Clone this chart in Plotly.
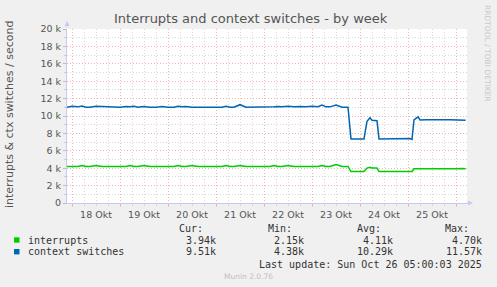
import pandas as pd
import plotly.graph_objects as go

# hours relative to 2025-10-18 00:00
hours = [
    -2.5, 0, 3, 5, 7, 9, 12, 15, 18, 21,
    24, 27, 29, 31, 33, 36, 39, 42, 45, 48,
    51, 53, 55, 57, 60, 63, 66, 69, 72, 75,
    77, 79, 81, 84, 87, 90, 93, 96, 99, 101,
    103, 105, 108, 111, 114, 117, 120, 123, 125, 127,
    129, 132, 135, 138, 139.5, 142, 145, 146, 147.5, 149,
    150, 152.5, 153.5, 156, 159, 163, 166.5, 169, 170, 171,
    173, 174, 177, 180, 183, 186, 189, 192, 195, 196.8,
]

interrupts_k = [
    4.20, 4.21, 4.20, 4.32, 4.20, 4.20, 4.32, 4.20, 4.20, 4.20,
    4.20, 4.20, 4.32, 4.20, 4.20, 4.32, 4.20, 4.20, 4.20, 4.20,
    4.20, 4.32, 4.20, 4.20, 4.32, 4.20, 4.20, 4.20, 4.20, 4.20,
    4.32, 4.20, 4.20, 4.32, 4.20, 4.20, 4.20, 4.20, 4.20, 4.32,
    4.20, 4.20, 4.32, 4.20, 4.20, 4.20, 4.20, 4.20, 4.32, 4.20,
    4.20, 4.42, 4.20, 4.20, 3.62, 3.62, 3.62, 3.62, 4.01, 4.10,
    4.01, 4.01, 3.62, 3.62, 3.62, 3.63, 3.62, 3.62, 3.62, 3.93,
    3.98, 3.93, 3.95, 3.93, 3.96, 3.93, 3.95, 3.93, 3.96, 3.94,
]

ctx_switches_k = [
    11.00, 11.12, 11.05, 11.15, 11.02, 11.00, 11.12, 11.08, 11.00, 11.00,
    11.00, 11.10, 11.05, 11.12, 11.02, 11.10, 11.00, 11.00, 11.08, 11.00,
    11.00, 11.12, 11.05, 11.10, 11.00, 11.00, 11.00, 11.00, 11.00, 11.00,
    11.12, 11.00, 11.00, 11.30, 11.00, 11.00, 11.00, 11.00, 11.00, 11.05,
    11.10, 11.05, 11.12, 11.06, 11.10, 11.05, 11.12, 11.06, 11.25, 11.05,
    11.05, 11.25, 11.00, 11.00, 7.37, 7.37, 7.37, 7.37, 9.40, 9.80,
    9.50, 9.45, 7.37, 7.37, 7.37, 7.45, 7.45, 7.40, 7.30, 9.55,
    9.90, 9.55, 9.58, 9.55, 9.60, 9.56, 9.58, 9.55, 9.60, 9.51,
]

y_ticks = [0, 2, 4, 6, 8, 10, 12, 14, 16, 18, 20]
y_ticktext = ["0", "2 k", "4 k", "6 k", "8 k", "10 k", "12 k", "14 k", "16 k", "18 k", "20 k"]

legend_names = ["interrupts", "context switches"]
legend_colors = ["#00cc00", "#0066b3"]
stat_headers = ["Cur:", "Min:", "Avg:", "Max:"]
stats_interrupts = ["3.94k", "2.15k", "4.11k", "4.70k"]
stats_ctx = ["9.51k", "4.38k", "10.29k", "11.57k"]

base = pd.Timestamp("2025-10-18 00:00")
times = base + pd.to_timedelta(hours, unit="h")
x_start = base + pd.Timedelta(hours=-2.5)
x_end = base + pd.Timedelta(hours=197.5)

W, H = 497, 287
L, R, T, B = 67, 30, 29, 84
PW, PH = W - L - R, H - T - B


def px(x):
    return (x - L) / PW


def py(y):
    return (H - B - y) / PH


fig = go.Figure()
fig.add_trace(go.Scatter(x=times, y=interrupts_k, mode="lines",
                         line=dict(color=legend_colors[0], width=1.5),
                         showlegend=False))
fig.add_trace(go.Scatter(x=times, y=ctx_switches_k, mode="lines",
                         line=dict(color=legend_colors[1], width=1.5),
                         showlegend=False))

grid_red = "#f0b4b4"
grid_gray = "#d8d8d8"
axis_col = "#c8c8f0"
txt = "#555555"

fig.update_layout(
    width=W, height=H, autosize=False,
    margin=dict(l=L, r=R, t=T, b=B, pad=0),
    paper_bgcolor="#f0f0f0", plot_bgcolor="#ffffff",
    font=dict(family="DejaVu Sans", size=10, color=txt),
    xaxis=dict(
        type="date", range=[x_start, x_end],
        tick0=base, dtick=86400000, tickformat="%d Okt", ticklabelmode="period",
        showgrid=True, gridcolor=grid_red, griddash="1px,2px", gridwidth=1,
        ticks="outside", ticklen=3, tickcolor=grid_red,
        tickfont=dict(family="DejaVu Sans", size=9.5, color=txt),
        minor=dict(dtick=6 * 3600 * 1000, showgrid=True, gridcolor=grid_gray,
                   griddash="1px,2px", ticks="outside", ticklen=2, tickcolor=grid_gray),
        showline=True, linecolor=axis_col, linewidth=1,
        zeroline=False, fixedrange=True,
    ),
    yaxis=dict(
        range=[0, 20], tickvals=y_ticks, ticktext=y_ticktext,
        showgrid=True, gridcolor=grid_red, griddash="1px,2px", gridwidth=1,
        ticks="outside", ticklen=3, tickcolor="#bbbbbb",
        tickfont=dict(family="DejaVu Sans", size=9.5, color=txt),
        minor=dict(dtick=1, showgrid=True, gridcolor=grid_gray,
                   griddash="1px,2px", ticks="outside", ticklen=2, tickcolor="#cccccc"),
        showline=True, linecolor=axis_col, linewidth=1,
        zeroline=False, fixedrange=True,
    ),
)

ann = []
# title
ann.append(dict(x=px(250.5), y=py(19), xref="paper", yref="paper",
                text="Interrupts and context switches - by week", showarrow=False,
                xanchor="center", yanchor="middle",
                font=dict(family="DejaVu Sans", size=13, color=txt)))
# y axis label
ann.append(dict(x=px(10), y=py(115), xref="paper", yref="paper",
                text="interrupts & ctx switches / second", showarrow=False,
                textangle=-90, xanchor="center", yanchor="middle",
                font=dict(family="DejaVu Sans", size=11, color=txt)))
# rrdtool credit
ann.append(dict(x=px(488), y=py(53), xref="paper", yref="paper",
                text="RRDTOOL / TOBI OETIKER", showarrow=False,
                textangle=90, xanchor="center", yanchor="middle",
                font=dict(family="DejaVu Sans", size=7.5, color="#c8c8c8")))
# axis arrows
ann.append(dict(x=px(L), y=py(21), xref="paper", yref="paper", ax=0, ay=7,
                showarrow=True, arrowhead=2, arrowsize=1, arrowwidth=1,
                arrowcolor=axis_col, text=""))
ann.append(dict(x=px(473), y=py(203), xref="paper", yref="paper", ax=-7, ay=0,
                showarrow=True, arrowhead=2, arrowsize=1, arrowwidth=1,
                arrowcolor=axis_col, text=""))

mono = dict(family="DejaVu Sans Mono", size=10, color="#333333")
header_right = [204, 293, 382, 470]
value_right = [216.7, 305, 394, 482.7]
for hx, h in zip(header_right, stat_headers):
    ann.append(dict(x=px(hx), y=py(228.3), xref="paper", yref="paper", text=h,
                    showarrow=False, xanchor="right", yanchor="middle", font=mono))
rows_y = [240, 251.7]
for ry, name, vals in zip(rows_y, legend_names, [stats_interrupts, stats_ctx]):
    ann.append(dict(x=px(26.7), y=py(ry), xref="paper", yref="paper", text=name,
                    showarrow=False, xanchor="left", yanchor="middle", font=mono))
    for vx, v in zip(value_right, vals):
        ann.append(dict(x=px(vx), y=py(ry), xref="paper", yref="paper", text=v,
                        showarrow=False, xanchor="right", yanchor="middle", font=mono))
ann.append(dict(x=px(482.7), y=py(264), xref="paper", yref="paper",
                text="Last update: Sun Oct 26 05:00:03 2025",
                showarrow=False, xanchor="right", yanchor="middle", font=mono))
ann.append(dict(x=px(248), y=py(276.5), xref="paper", yref="paper",
                text="Munin 2.0.76", showarrow=False, xanchor="center", yanchor="middle",
                font=dict(family="DejaVu Sans", size=7.5, color="#c0c0c0")))
for a in ann:
    a.setdefault("borderpad", 0)
fig.update_layout(annotations=ann)

shapes = []
for ry, col in zip(rows_y, legend_colors):
    shapes.append(dict(type="rect", xref="paper", yref="paper",
                       x0=px(14), x1=px(19.5), y0=py(ry - 2.7), y1=py(ry + 2.7),
                       fillcolor=col, line=dict(width=0)))
fig.update_layout(shapes=shapes)

fig.write_html("out.html", config=dict(displayModeBar=False))
